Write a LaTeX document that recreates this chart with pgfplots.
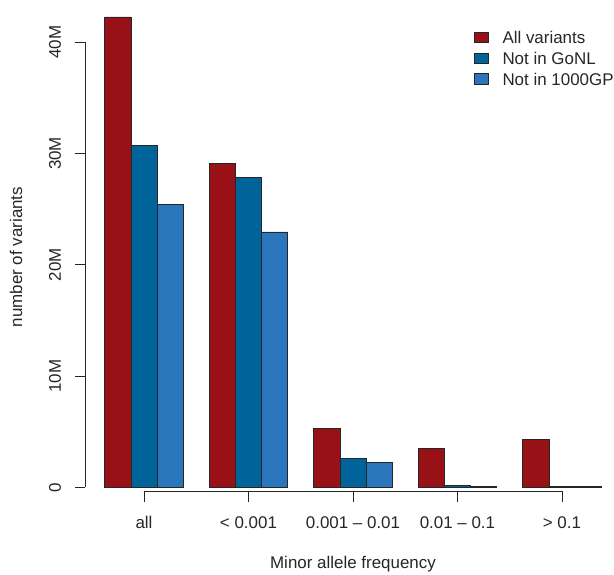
\documentclass[border=0pt]{standalone}
\usepackage{fontspec}
\setmainfont{Liberation Sans}
\usepackage{pgfplots}
\pgfplotsset{compat=1.18}
\definecolor{cred}{RGB}{151,17,22}
\definecolor{cdark}{RGB}{0,99,153}
\definecolor{clight}{RGB}{43,117,188}
\tikzset{ln/.style={black!85, line width=0.7pt}, lb/.style={inner sep=0pt, text=black!85}}
\begin{document}
\begin{tikzpicture}[font=\fontsize{17}{20}\selectfont]
\begin{axis}[
  scale only axis, width=614bp, height=575bp,
  xmin=-1.378, xmax=4.498, ymin=-7.88, ymax=43.78,
  axis lines=none, clip=false, xtick=\empty, ytick=\empty,
  ybar, bar width=0.25,
  every axis plot/.append style={draw=black!85, line width=0.7pt},
]
\path (rel axis cs:0,0) rectangle (rel axis cs:1,1);
\addplot[fill=cred, bar shift=-0.25] coordinates {(0,42.26) (1,29.1) (2,5.3) (3,3.52) (4,4.27)};
\addplot[fill=cdark, bar shift=0] coordinates {(0,30.7) (1,27.85) (2,2.6) (3,0.14) (4,0.06)};
\addplot[fill=clight, bar shift=0.25] coordinates {(0,25.4) (1,22.94) (2,2.27) (3,0.09) (4,0.04)};
% y axis (R style)
\draw[ln] (axis cs:-0.5646,0) -- (axis cs:-0.5646,40);
\draw[ln] (axis cs:-0.5646,0) -- (axis cs:-0.6603,0);
\draw[ln] (axis cs:-0.5646,10) -- (axis cs:-0.6603,10);
\draw[ln] (axis cs:-0.5646,20) -- (axis cs:-0.6603,20);
\draw[ln] (axis cs:-0.5646,30) -- (axis cs:-0.6603,30);
\draw[ln] (axis cs:-0.5646,40) -- (axis cs:-0.6603,40);
\node[lb, rotate=90] at (axis cs:-0.8517,0) {0};
\node[lb, rotate=90] at (axis cs:-0.8517,10) {10M};
\node[lb, rotate=90] at (axis cs:-0.8517,20) {20M};
\node[lb, rotate=90] at (axis cs:-0.8517,30) {30M};
\node[lb, rotate=90] at (axis cs:-0.8517,40) {40M};
% x axis
\draw[ln] (axis cs:0,-0.332) -- (axis cs:4,-0.332);
\draw[ln] (axis cs:0,-0.332) -- (axis cs:0,-1.321);
\draw[ln] (axis cs:1,-0.332) -- (axis cs:1,-1.321);
\draw[ln] (axis cs:2,-0.332) -- (axis cs:2,-1.321);
\draw[ln] (axis cs:3,-0.332) -- (axis cs:3,-1.321);
\draw[ln] (axis cs:4,-0.332) -- (axis cs:4,-1.321);
\node[lb] at (axis cs:0,-3.19) {all};
\node[lb] at (axis cs:1,-3.19) {< 0.001};
\node[lb] at (axis cs:2,-3.19) {0.001 – 0.01};
\node[lb] at (axis cs:3,-3.19) {0.01 – 0.1};
\node[lb] at (axis cs:4,-3.19) {> 0.1};
\node[lb, rotate=90] at (axis cs:-1.2249,20.69) {number of variants};
\node[lb] at (axis cs:2.0,-6.89) {Minor allele frequency};
% legend
\draw[fill=cred, draw=black!85, line width=0.6pt] (axis cs:3.161,39.94) rectangle (axis cs:3.295,40.88);
\draw[fill=cdark, draw=black!85, line width=0.6pt] (axis cs:3.161,38.07) rectangle (axis cs:3.295,39.01);
\draw[fill=clight, draw=black!85, line width=0.6pt] (axis cs:3.161,36.21) rectangle (axis cs:3.295,37.15);
\node[lb, anchor=west] at (axis cs:3.429,40.41) {All variants};
\node[lb, anchor=west] at (axis cs:3.429,38.54) {Not in GoNL};
\node[lb, anchor=west] at (axis cs:3.429,36.68) {Not in 1000GP};
\end{axis}
\end{tikzpicture}
\end{document}
